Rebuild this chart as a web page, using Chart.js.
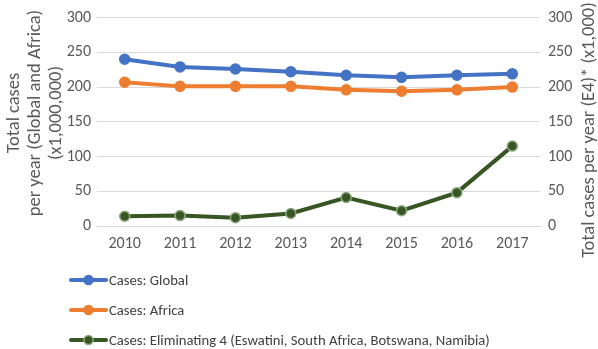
<!DOCTYPE html>
<html><head><meta charset="utf-8">
<script src="https://cdn.jsdelivr.net/npm/chart.js@4"></script>
<style>html,body{margin:0;padding:0;background:#fff}#w{width:598px;height:349px}</style>
</head><body><div id="w"><canvas id="c" width="598" height="349"></canvas></div>
<script>
const years = ['2010','2011','2012','2013','2014','2015','2016','2017'];
const globalCases = [240, 229, 226, 222, 217, 214, 217, 219];
const africaCases = [207, 201, 201, 201, 196, 194, 196, 200];
const e4Cases = [14, 15, 12, 18, 41, 22, 48, 115];
const yTicks = [0, 50, 100, 150, 200, 250, 300];
const seriesNames = ['Cases: Global', 'Cases: Africa', 'Cases: Eliminating 4 (Eswatini, South Africa, Botswana, Namibia)'];
const leftTitle = ['Total cases', 'per year (Global and Africa)', '(x1,000,000)'];
const rightTitle = 'Total cases per year (E4)* (x1,000)';

const FONT = "Calibri, Carlito, 'Liberation Sans', sans-serif";
const TXT = '#595959';

const extrasPlugin = {
  id: 'extras',
  afterDraw(chart) {
    const ctx = chart.ctx;
    ctx.save();
    chart.data.datasets.forEach((ds, i) => {
      const y = 280 + i * 30;
      const x0 = 71, x1 = 106;
      ctx.strokeStyle = ds.borderColor;
      ctx.lineWidth = 4;
      ctx.lineCap = 'round';
      ctx.beginPath(); ctx.moveTo(x0, y); ctx.lineTo(x1, y); ctx.stroke();
      ctx.fillStyle = ds.pointBackgroundColor;
      ctx.strokeStyle = ds.pointBorderColor;
      ctx.lineWidth = 1.5;
      ctx.beginPath(); ctx.arc((x0 + x1) / 2, y, 4.5, 0, Math.PI * 2); ctx.fill(); ctx.stroke();
      ctx.fillStyle = '#404040';
      ctx.font = '14.67px ' + FONT;
      ctx.textBaseline = 'middle';
      ctx.textAlign = 'left';
      ctx.fillText(ds.label, 109, y + 1);
    });
    ctx.fillStyle = TXT;
    ctx.font = '18.5px ' + FONT;
    ctx.textAlign = 'center';
    ctx.textBaseline = 'middle';
    const lx = [14, 35, 56];
    leftTitle.forEach((t, i) => {
      ctx.save();
      ctx.translate(lx[i], 113);
      ctx.rotate(-Math.PI / 2);
      ctx.fillText(t, 0, 0);
      ctx.restore();
    });
    ctx.save();
    ctx.translate(589, 130);
    ctx.rotate(-Math.PI / 2);
    ctx.fillText(rightTitle, 0, 0);
    ctx.restore();
    ctx.restore();
  }
};

new Chart(document.getElementById('c'), {
  type: 'line',
  data: {
    labels: years,
    datasets: [
      { label: seriesNames[0], data: globalCases, yAxisID: 'y', borderColor: '#4472C4', backgroundColor: '#4472C4', pointBackgroundColor: '#4472C4', pointBorderColor: '#4472C4' },
      { label: seriesNames[1], data: africaCases, yAxisID: 'y', borderColor: '#ED7D31', backgroundColor: '#ED7D31', pointBackgroundColor: '#ED7D31', pointBorderColor: '#ED7D31' },
      { label: seriesNames[2], data: e4Cases, yAxisID: 'y2', borderColor: '#375623', backgroundColor: '#375623', pointBackgroundColor: '#375623', pointBorderColor: '#8fa97f' }
    ]
  },
  options: {
    responsive: false,
    animation: false,
    layout: { padding: { top: 2, bottom: 93, left: 0, right: 0 } },
    elements: {
      line: { borderWidth: 4, tension: 0 },
      point: { radius: 5, borderWidth: 1.5 }
    },
    plugins: { legend: { display: false }, tooltip: { enabled: false } },
    scales: {
      x: {
        offset: true,
        grid: { display: false, drawTicks: false },
        border: { display: true, color: '#d9d9d9' },
        ticks: { color: TXT, font: { family: FONT, size: 16 }, padding: 8 },
        afterFit(s) { s.height = 30; }
      },
      y: {
        position: 'left', min: 0, max: 300,
        afterBuildTicks(s) { s.ticks = yTicks.map(v => ({ value: v })); },
        grid: { color: '#d9d9d9', drawTicks: false },
        border: { display: false },
        ticks: { color: TXT, font: { family: FONT, size: 16 }, padding: 6 },
        afterFit(s) { s.width = 97; }
      },
      y2: {
        position: 'right', min: 0, max: 300,
        afterBuildTicks(s) { s.ticks = yTicks.map(v => ({ value: v })); },
        grid: { display: false, drawTicks: false },
        border: { display: false },
        ticks: { color: TXT, font: { family: FONT, size: 16 }, padding: 8 },
        afterFit(s) { s.width = 58; }
      }
    }
  },
  plugins: [extrasPlugin]
});
</script></body></html>
